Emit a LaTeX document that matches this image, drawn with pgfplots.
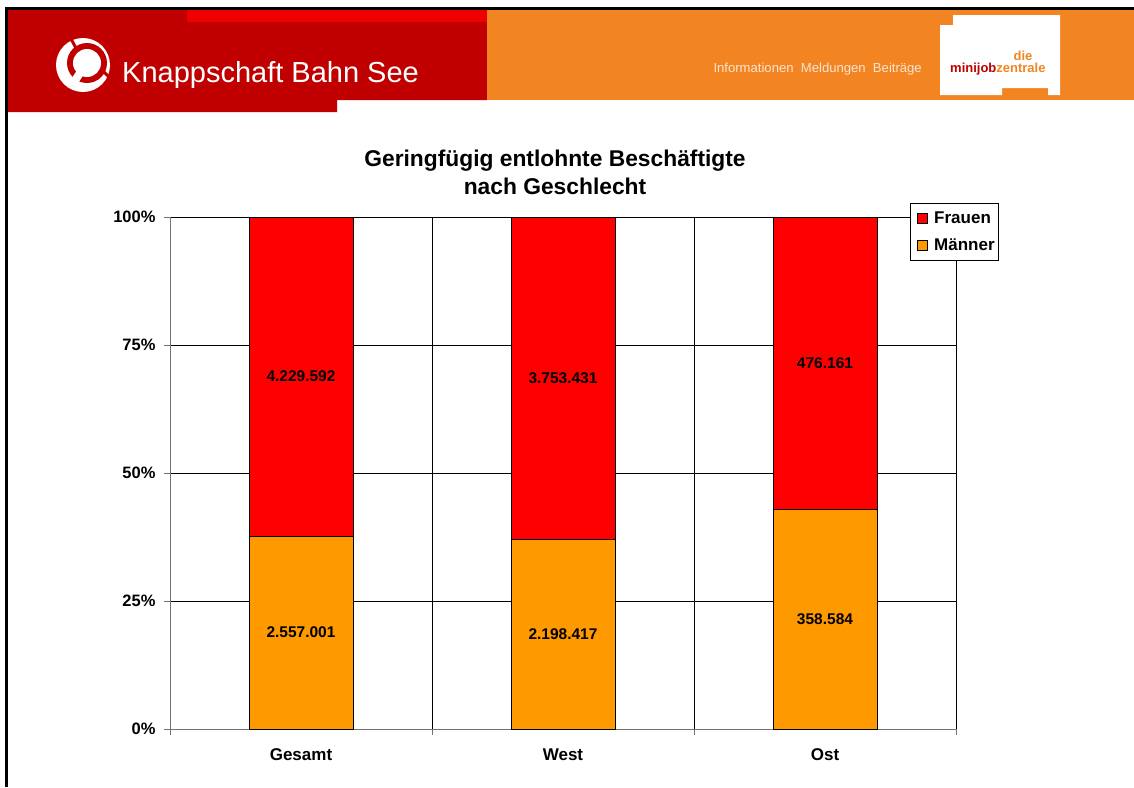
\documentclass[border=0pt]{standalone}
\usepackage{fontspec}
\setmainfont{Liberation Sans}
\usepackage{pgfplots}
\pgfplotsset{compat=1.18}
\usepackage{pgfplotstable}

\definecolor{kbsred}{RGB}{192,0,0}
\definecolor{kbsbright}{RGB}{238,0,0}
\definecolor{mjorange}{RGB}{242,133,34}
\definecolor{frauen}{RGB}{255,0,0}
\definecolor{maenner}{RGB}{255,153,0}
\definecolor{headtext}{RGB}{250,228,210}

% counts of marginally employed persons, men (m) and women (f)
\pgfplotstableread{
x  m        f        mlab       flab
0  2557001  4229592  2.557.001  4.229.592
1  2198417  3753431  2.198.417  3.753.431
2  358584   476161   358.584    476.161
}\data

\newcommand{\chartfont}{\fontsize{16.5}{18}\selectfont\bfseries}

\begin{document}
\begin{tikzpicture}
\begin{scope}[x=1pt,y=-1pt]
  \useasboundingbox (0,0) rectangle (1134,787);
  % header banner
  \fill[kbsred] (8,10) -- (487,10) -- (487,100) -- (337,100) -- (337,112) -- (8,112) -- cycle;
  \fill[kbsbright] (187,10) rectangle (487,22);
  \fill[mjorange] (487,10) rectangle (1134,100);
  \fill[black] (5,7) rectangle (1134,10);
  \fill[black] (5,7) rectangle (8,787);
  % logo
  \fill[white] (83,65) circle (27);
  \fill[kbsred] (87,63) circle (20);
  \fill[white] (87,63) circle (14);
  \draw[white, line width=8pt] (82,70) -- (70,88);
  \draw[kbsred, line width=3pt] (77,50) -- (70,37);
  \draw[kbsred, line width=3pt] (104,72) -- (112,80);
  \node[anchor=base west, text=white, font=\fontsize{29}{32}\selectfont, inner sep=0pt] at (122,82) {Knappschaft Bahn See};
  \node[anchor=base east, text=headtext, font=\fontsize{13.1}{14}\selectfont, inner sep=0pt] at (922,72) {Informationen\ \ Meldungen\ \ Beiträge};
  % minijob-zentrale box
  \fill[white] (940,25) -- (953,25) -- (953,15) -- (1060,15) -- (1060,95) -- (1048,95) -- (1048,88) -- (1002,88) -- (1002,95) -- (940,95) -- cycle;
  \node[anchor=base west, inner sep=0pt, font=\fontsize{13}{14}\selectfont\bfseries] at (950,72) {\textcolor{kbsred}{minijob}\textcolor{mjorange}{zentrale}};
  \node[anchor=base, inner sep=0pt, text=mjorange, font=\fontsize{13}{14}\selectfont\bfseries] at (1023,60) {die};
  % title
  \node[align=center, font=\fontsize{22.8}{28}\selectfont\bfseries] at (555,172) {Geringfügig entlohnte Beschäftigte\\nach Geschlecht};
\end{scope}

\begin{axis}[
    at={(170pt,-729pt)}, anchor=south west,
    scale only axis, width=786pt, height=512pt,
    xmin=-0.5, xmax=2.5, ymin=0, ymax=100,
    ybar stacked, bar width=104pt,
    axis x line*=bottom, axis y line*=left,
    axis line style={draw=black!55, line width=1pt},
    xtick={0,1,2}, xticklabels={Gesamt,West,Ost},
    minor xtick={-0.5,0.5,1.5,2.5},
    ytick={0,25,50,75,100}, yticklabels={0\%,25\%,50\%,75\%,100\%},
    xminorgrids, ymajorgrids,
    grid style={black, line width=0.8pt},
    tick align=outside,
    major tick length=6pt, minor tick length=6pt,
    major x tick style={draw=none},
    tick style={black!55, line width=1pt},
    ticklabel style={font=\chartfont},
    xticklabel style={font=\fontsize{17}{18}\selectfont\bfseries, text height=12.5pt, text depth=4pt, yshift=-9pt},
    yticklabel style={xshift=-5pt},
    reverse legend,
    legend cell align=left,
    legend style={at={(0.9415,1.0273)}, anchor=north west, draw=black, line width=0.8pt,
        fill=white, font=\fontsize{17}{18}\selectfont\bfseries, inner xsep=2pt, inner ysep=6.5pt, row sep=10pt},
    legend image code/.code={\path (0pt,0pt);
        \draw[#1, draw=black, line width=0.6pt] (4pt,-5pt) rectangle (14pt,5pt);
        \path (19pt,0pt);},
]
\addplot[fill=maenner, draw=black, line width=0.8pt]
    table[x=x, y expr=100*\thisrow{m}/(\thisrow{m}+\thisrow{f})] {\data};
\addplot[fill=frauen, draw=black, line width=0.8pt]
    table[x=x, y expr=100*\thisrow{f}/(\thisrow{m}+\thisrow{f})] {\data};
\legend{Männer,Frauen}
\end{axis}

% value labels, centred in each segment
\begin{axis}[
    at={(170pt,-729pt)}, anchor=south west,
    scale only axis, width=786pt, height=512pt,
    xmin=-0.5, xmax=2.5, ymin=0, ymax=100,
    hide axis,
    point meta=explicit symbolic,
    nodes near coords,
    nodes near coords align={center},
    every node near coord/.append style={font=\fontsize{15.5}{17}\selectfont\bfseries},
]
\addplot[draw=none, mark=none]
    table[x=x, y expr=50*\thisrow{m}/(\thisrow{m}+\thisrow{f}), meta=mlab] {\data};
\addplot[draw=none, mark=none]
    table[x=x, y expr=50+50*\thisrow{m}/(\thisrow{m}+\thisrow{f}), meta=flab] {\data};
\end{axis}
\end{tikzpicture}
\end{document}
